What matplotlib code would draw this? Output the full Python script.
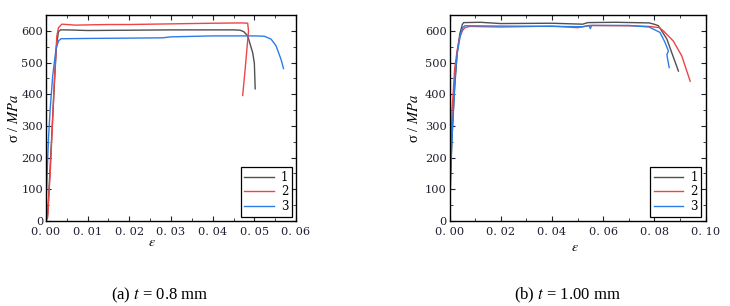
import matplotlib.pyplot as plt
from matplotlib.ticker import FuncFormatter, MultipleLocator

# (a) t = 0.8 mm
a1_eps = [0, 0.0004, 0.001, 0.0015, 0.002, 0.0025, 0.003, 0.0035, 0.005, 0.01, 0.02,
          0.03, 0.04, 0.045, 0.0466, 0.0475, 0.0484, 0.0496, 0.050, 0.0502]
a1_sig = [0, 20, 170, 300, 430, 550, 598, 603, 603, 601, 602,
          603, 603, 603, 602, 597, 584, 531, 498, 417]
a2_eps = [0, 0.0004, 0.001, 0.0015, 0.002, 0.0026, 0.003, 0.0038, 0.005, 0.007, 0.015,
          0.02, 0.03, 0.04, 0.047, 0.0484, 0.0486, 0.0478, 0.0472]
a2_sig = [0, 10, 150, 290, 440, 584, 610, 621, 620, 618, 620,
          620, 622, 624, 625, 624, 600, 480, 396]
a3_eps = [0, 0.0001, 0.0003, 0.0006, 0.001, 0.0016, 0.0024, 0.003, 0.0036, 0.01, 0.02,
          0.028, 0.03, 0.04, 0.05, 0.0524, 0.054, 0.0552, 0.0564, 0.057]
a3_sig = [0, 80, 160, 260, 352, 457, 542, 568, 575, 576, 577,
          578, 581, 584, 584, 583, 574, 553, 510, 481]

# (b) t = 1.00 mm
b1_eps = [0, 0.0005, 0.001, 0.002, 0.003, 0.004, 0.005, 0.0055, 0.012, 0.02, 0.04,
          0.052, 0.054, 0.065, 0.078, 0.0803, 0.0816, 0.0849, 0.0868, 0.0894]
b1_sig = [0, 150, 270, 420, 530, 590, 620, 626, 627, 623, 624,
          621, 626, 627, 625, 620, 616, 574, 531, 473]
b2_eps = [0, 0.0005, 0.001, 0.002, 0.003, 0.004, 0.005, 0.006, 0.008, 0.02, 0.04,
          0.05, 0.055, 0.07, 0.078, 0.082, 0.0835, 0.0874, 0.0907, 0.094]
b2_sig = [0, 220, 350, 480, 540, 580, 600, 610, 614, 612, 615,
          610, 617, 616, 614, 610, 600, 568, 521, 441]
b3_eps = [0, 0.0003, 0.0009, 0.0015, 0.0022, 0.003, 0.0042, 0.0052, 0.006, 0.02, 0.04,
          0.052, 0.0545, 0.055, 0.0555, 0.07, 0.078, 0.0822, 0.0842, 0.0855, 0.0849,
          0.0852, 0.0858]
b3_sig = [0, 150, 248, 350, 457, 530, 585, 611, 616, 615, 614,
          613, 617, 607, 617, 617, 612, 595, 563, 536, 525,
          510, 484]

labels = ["1", "2", "3"]
colors = ["#505050", "#f04444", "#2c7ce8"]
captions = ["(a) $t$ = 0.8 mm", "(b) $t$ = 1.00 mm"]

plt.rcParams["font.family"] = ["DejaVu Serif"]
plt.rcParams["mathtext.fontset"] = "stix"

fig = plt.figure(figsize=(7.3, 3.06), dpi=100)
ax_a = fig.add_axes([0.063, 0.278, 0.3425, 0.673])
ax_b = fig.add_axes([0.6158, 0.278, 0.3507, 0.673])

tick_fmt = FuncFormatter(lambda v, p: f"{v:.2f}".replace(".", ". "))


def draw(ax, curves, xmax, xmajor, eps_pos):
    for (e, s), lab, c in zip(curves, labels, colors):
        ax.plot(e, s, color=c, lw=1.0, label=lab)
    ax.set_xlim(0, xmax)
    ax.set_ylim(0, 650)
    ax.xaxis.set_major_locator(MultipleLocator(xmajor))
    ax.xaxis.set_minor_locator(MultipleLocator(xmajor / 2))
    ax.yaxis.set_major_locator(MultipleLocator(100))
    ax.yaxis.set_minor_locator(MultipleLocator(50))
    ax.xaxis.set_major_formatter(tick_fmt)
    ax.tick_params(which="both", direction="in", top=True, right=True,
                   labelsize=8.2, colors="#202030", pad=2)
    ax.tick_params(axis="x", which="major", pad=4.5)
    ax.tick_params(which="major", length=3.5)
    ax.tick_params(which="minor", length=2)
    for sp in ax.spines.values():
        sp.set_linewidth(1.0)
    ax.set_ylabel("σ / $\\mathit{MPa}$", fontsize=10.5, labelpad=0,
                  family=["Liberation Serif", "DejaVu Serif"])
    ax.text(eps_pos[0], eps_pos[1], "$\\varepsilon$", transform=ax.transAxes,
            fontsize=10, ha="center", va="center")
    leg = ax.legend(loc="lower right", fontsize=8.5, fancybox=False,
                    edgecolor="black", framealpha=1, borderpad=0.3,
                    handlelength=2.5, labelspacing=0.15, borderaxespad=0.35,
                    handletextpad=0.6)
    leg.get_frame().set_linewidth(0.9)


draw(ax_a, [(a1_eps, a1_sig), (a2_eps, a2_sig), (a3_eps, a3_sig)], 0.06, 0.01, (0.424, -0.1))
draw(ax_b, [(b1_eps, b1_sig), (b2_eps, b2_sig), (b3_eps, b3_sig)], 0.10, 0.02, (0.49, -0.125))
ax_a.yaxis.set_label_coords(-0.1, 0.5)
ax_b.yaxis.set_label_coords(-0.11, 0.5)

fig.text(0.219, 0.036, captions[0], ha="center", va="center", fontsize=12,
         family=["Liberation Serif"])
fig.text(0.777, 0.036, captions[1], ha="center", va="center", fontsize=12,
         family=["Liberation Serif"])

fig.savefig("out.png", dpi=100)
